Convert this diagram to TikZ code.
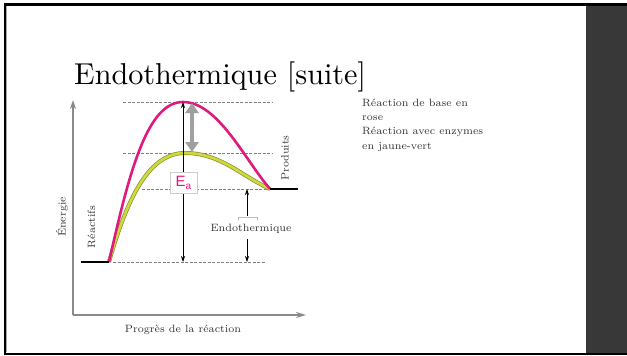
\documentclass[tikz,border=0pt]{standalone}
\usepackage{fontspec}
\newfontfamily\sansea{Liberation Sans}
\newfontfamily\titlerm{lmroman10-regular.otf}
\newfontfamily\smallrm{lmroman7-regular.otf}
\usetikzlibrary{arrows.meta}
\definecolor{pinkc}{HTML}{E0197D}
\definecolor{yelc}{HTML}{CBDC3A}
\definecolor{panel}{HTML}{383838}
\definecolor{axisg}{HTML}{8A8A8A}
\tikzset{
  dashln/.style={draw=gray, line width=0.8pt, dash pattern=on 3pt off 1.5pt},
  levelln/.style={draw=black, line width=2.5pt},
  thinarrow/.style={draw=black, line width=0.7pt, -{Stealth[length=6pt,width=4pt]}},
  axisln/.style={draw=axisg, line width=1.6pt},
  smalltxt/.style={font=\smallrm\fontsize{10.6}{12}\selectfont, text=black!80, inner sep=0pt},
}
\begin{document}
\begin{tikzpicture}[x=1pt,y=-1pt]
\useasboundingbox (0,0) rectangle (627,356);
\fill[white] (0,0) rectangle (627,356);
% slide frame
\fill[panel] (586,5) rectangle (627,353);
\draw[black, line width=2.2pt] (5,355) -- (5,4.5) -- (627,4.5);
\draw[black, line width=2pt] (4,354) -- (627,354);
\draw[gray!70, line width=0.6pt] (6.6,6) -- (6.6,352);
% title
\node[anchor=base west, inner sep=0pt, font=\titlerm\fontsize{30.2}{34}\selectfont] (title) at (74,84.5) {Endothermique [suite]};
% legend text
\node[smalltxt, anchor=base west] (l1) at (362,106.5) {Réaction de base en};
\node[smalltxt, anchor=base west] (l2) at (362,120.5) {rose};
\node[smalltxt, anchor=base west] (l3) at (362,134) {Réaction avec enzymes};
\node[smalltxt, anchor=base west] (l4) at (362,149) {en jaune-vert};
% coordinates
\coordinate (o) at (73,315);
\coordinate (ytop) at (73,100);
\coordinate (xend) at (306,315);
\coordinate (r0) at (81,262);
\coordinate (r1) at (109,262);
\coordinate (p0) at (270,189);
\coordinate (p1) at (298,189);
\coordinate (peakP) at (183,102);
\coordinate (peakY) at (185,153);
% axes
\draw[axisln, -{Stealth[length=9pt,width=6pt]}] (o) -- (ytop);
\draw[axisln, -{Stealth[length=10pt,width=6pt]}] (o) -- (xend);
\node[rotate=90, smalltxt] (energie) at (62,217) {Énergie};
\node[smalltxt] (progres) at (183,330) {Progrès de la réaction};
% dashed lines
\coordinate (d1a) at (123,102); \coordinate (d1b) at (273,102);
\coordinate (d2a) at (123,153); \coordinate (d2b) at (273,153);
\coordinate (d3a) at (142,189); \coordinate (d3b) at (270,189);
\coordinate (d4a) at (113,262); \coordinate (d4b) at (265,262);
\draw[dashln] (d1a) -- (d1b);
\draw[dashln] (d2a) -- (d2b);
\draw[dashln] (d3a) -- (d3b);
\draw[dashln] (d4a) -- (d4b);
% yellow-green curve
\draw[draw=olive!60!gray, line width=4pt] (r1) .. controls (128,195) and (150,153) .. (peakY) .. controls (220,153) and (240,175) .. (p0);
\draw[draw=yelc, line width=2.6pt] (r1) .. controls (128,195) and (150,153) .. (peakY) .. controls (220,153) and (240,175) .. (p0);
% pink curve
\draw[draw=pinkc, line width=2.6pt] (r1) .. controls (130,168) and (148,102) .. (peakP) .. controls (218,102) and (245,160) .. (p0);
% levels
\draw[levelln] (r0) -- (r1);
\draw[levelln] (p0) -- (p1);
% labels
\node[rotate=90, smalltxt] (reactifs) at (91.5,227) {Réactifs};
\node[rotate=90, smalltxt] (produits) at (285,158) {Produits};
% Ea arrow
\coordinate (eaT) at (183,102);
\coordinate (eaB) at (183,262);
\draw[thinarrow, {Stealth[length=6pt,width=4pt]}-{Stealth[length=6pt,width=4pt]}] (eaT) -- (eaB);
\node[draw=gray!40, fill=white, line width=0.6pt, minimum width=27pt, minimum height=21pt, inner sep=0pt, font=\sansea\fontsize{15}{15}\selectfont, text=pinkc] (ea) at (183.5,182.5) {E\raisebox{-3pt}{\fontsize{10}{10}\selectfont a}};
% gray thick arrow
\coordinate (gT) at (192,103);
\coordinate (gB) at (192,152);
\draw[draw=gray!75, line width=4.5pt, {Triangle[length=10pt,width=13pt]}-{Triangle[length=10pt,width=13pt]}] (gT) -- (gB);
% endothermic arrow
\coordinate (eT) at (247,189);
\coordinate (eM1) at (247,216);
\coordinate (eM2) at (247,239);
\coordinate (eB) at (247,262);
\draw[thinarrow] (eM1) -- (eT);
\draw[thinarrow] (eM2) -- (eB);
\draw[draw=gray!50, line width=0.5pt] (238,220) -- (238,217) -- (257,217) -- (257,220);
\node[smalltxt, anchor=base] (endo) at (251,231.5) {Endothermique};
\end{tikzpicture}
\end{document}
